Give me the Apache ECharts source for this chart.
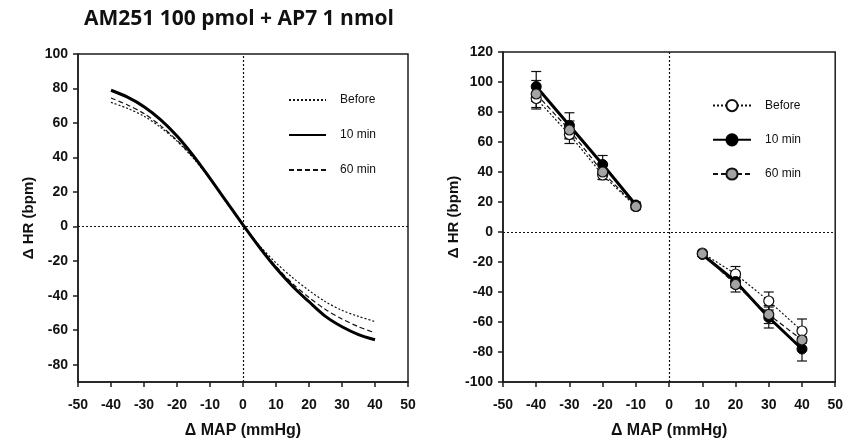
<!DOCTYPE html>
<html>
<head>
<meta charset="utf-8">
<script src="https://cdn.jsdelivr.net/npm/echarts@6/dist/echarts.min.js"></script>
<style>html,body{margin:0;padding:0;background:#fff}#c{width:846px;height:444px}</style>
</head>
<body>
<div id="c"></div>
<script>
// ---- Data ----
const titleText = 'AM251 100 pmol + AP7 1 nmol';
const seriesNames = ['Before', '10 min', '60 min'];
// Left panel: fitted curves (ΔMAP vs ΔHR)
const curveX = [-40, -35, -30, -25, -20, -15, -10, -5, 0, 5, 10, 15, 20, 25, 30, 35, 40];
const curveBefore = [72, 68.5, 64, 57.5, 49.5, 39.5, 27.5, 14, 1, -11, -21, -29.5, -37, -43.5, -48.5, -52, -55];
const curve10 = [79, 75, 69.5, 62, 52.5, 41, 28, 14.5, 1, -12, -24, -34.5, -43.5, -52, -58, -62.5, -65.5];
const curve60 = [74.5, 70.5, 65.5, 58.5, 50, 40, 28, 14.5, 1, -11.5, -23, -33, -41, -48, -53.5, -58, -61.5];
// Right panel: mean ± SEM
const pointX = [-40, -30, -20, -10, 10, 20, 30, 40];
const meanBefore = [89, 65, 38, 17, -14, -28, -46, -66];
const semBefore = [7, 6, 3, 2, 1, 5, 6, 8];
const mean10 = [97, 71, 45, 18, -15, -33, -57, -78];
const sem10 = [10, 8.5, 6, 2, 1, 4, 7, 8];
const mean60 = [92, 68, 40, 17, -14.5, -35, -55, -72];
const sem60 = [9, 6, 5, 2, 1, 5, 6, 6];
const xTicks = [-50, -40, -30, -20, -10, 0, 10, 20, 30, 40, 50];
const leftYTicks = [-80, -60, -40, -20, 0, 20, 40, 60, 80, 100];
const rightYTicks = [-100, -80, -60, -40, -20, 0, 20, 40, 60, 80, 100, 120];

// ---- Build ----
const AX = '#1c1c1c';
const tickFont = {fontFamily: 'Liberation Sans', fontWeight: 'bold', fontSize: 14, color: '#111'};
function xAxisOf(gi) {
  return {
    type: 'value', gridIndex: gi, min: -50, max: 50, interval: 10,
    name: 'Δ MAP (mmHg)', nameLocation: 'middle', nameGap: 41,
    nameTextStyle: {fontFamily: 'Liberation Sans', fontWeight: 'bold', fontSize: 16, color: '#111'},
    axisLine: {show: true, onZero: false, lineStyle: {color: AX, width: 1.5}},
    axisTick: {show: true, length: 5, lineStyle: {color: AX, width: 1.5}, customValues: xTicks},
    axisLabel: Object.assign({margin: 16, customValues: xTicks}, tickFont),
    splitLine: {show: false}
  };
}
function yAxisOf(gi, min, max, ticks, gap) {
  return {
    type: 'value', gridIndex: gi, min: min, max: max,
    name: 'Δ HR (bpm)', nameLocation: 'middle', nameGap: gap, nameRotate: 90,
    nameTextStyle: {fontFamily: 'Liberation Sans', fontWeight: 'bold', fontSize: 15, color: '#111'},
    axisLine: {show: true, onZero: false, lineStyle: {color: AX, width: 1.5}},
    axisTick: {show: true, length: 5, lineStyle: {color: AX, width: 1.5}, customValues: ticks},
    axisLabel: Object.assign({margin: 10, customValues: ticks}, tickFont),
    splitLine: {show: false}
  };
}
const zeroLines = {
  silent: true, symbol: 'none', label: {show: false},
  lineStyle: {type: [2, 2], color: '#111', width: 1.2},
  emphasis: {disabled: true},
  data: [{xAxis: 0}, {yAxis: 0}]
};
function pair(xs, ys) { return xs.map((x, i) => [x, ys[i]]); }
function splitPts(xs, ys) {
  const out = [];
  xs.forEach((x, i) => { if (i > 0 && xs[i - 1] < 0 && x > 0) out.push([0, '-']); out.push([x, ys[i]]); });
  return out;
}
function errData(xs, m, s) { return xs.map((x, i) => [x, m[i], s[i]]); }
function errSeries(name, xs, m, s) {
  return {
    type: 'custom', name: name + '_err', xAxisIndex: 1, yAxisIndex: 1, z: 1, silent: true,
    data: errData(xs, m, s),
    renderItem: function (params, api) {
      const x = api.value(0), mv = api.value(1), sv = api.value(2);
      const t = api.coord([x, mv + sv]), b = api.coord([x, mv - sv]);
      const hw = 5, st = {stroke: '#111', lineWidth: 1.2};
      return {type: 'group', children: [
        {type: 'line', shape: {x1: t[0], y1: t[1], x2: b[0], y2: b[1]}, style: st},
        {type: 'line', shape: {x1: t[0] - hw, y1: t[1], x2: t[0] + hw, y2: t[1]}, style: st},
        {type: 'line', shape: {x1: b[0] - hw, y1: b[1], x2: b[0] + hw, y2: b[1]}, style: st}
      ]};
    }
  };
}
const dashDot = [2, 2], dashLong = [5, 3];
const option = {
  animation: false,
  backgroundColor: '#fff',
  title: {text: titleText, left: 79, top: 4,
    textStyle: {fontFamily: 'Open Sans', fontWeight: 'bold', fontSize: 21, color: '#111'}},
  grid: [
    {left: 78, right: 438, top: 54, bottom: 62, show: true, borderColor: AX, borderWidth: 1.5, backgroundColor: 'transparent'},
    {left: 503, right: 10, top: 52, bottom: 62, show: true, borderColor: AX, borderWidth: 1.5, backgroundColor: 'transparent'}
  ],
  xAxis: [xAxisOf(0), xAxisOf(1)],
  yAxis: [yAxisOf(0, -90, 100, leftYTicks, 42), yAxisOf(1, -100, 120, rightYTicks, 38)],
  legend: [
    {orient: 'vertical', left: 283, top: 89, itemWidth: 37, itemHeight: 14, itemGap: 23,
     data: seriesNames, selectedMode: false,
     itemStyle: {opacity: 0},
     textStyle: {fontFamily: 'Liberation Sans', fontSize: 12, color: '#111', padding: [0, 0, 0, 9]}},
    {orient: 'vertical', left: 707, top: 94, itemWidth: 38, itemHeight: 14, itemGap: 21,
     data: seriesNames.map(n => n + '_r'), selectedMode: false,
     formatter: function (n) { return n.replace('_r', ''); },
     textStyle: {fontFamily: 'Liberation Sans', fontSize: 12, color: '#111', padding: [0, 0, 0, 9]}}
  ],
  series: [
    {type: 'line', name: 'Before', xAxisIndex: 0, yAxisIndex: 0, showSymbol: false, symbol: 'none', smooth: 0.3,
     data: pair(curveX, curveBefore), lineStyle: {color: '#111', width: 1.2, type: dashDot}, itemStyle: {color: '#111'},
     markLine: zeroLines},
    {type: 'line', name: '60 min', xAxisIndex: 0, yAxisIndex: 0, showSymbol: false, symbol: 'none', smooth: 0.3,
     data: pair(curveX, curve60), lineStyle: {color: '#111', width: 1.2, type: dashLong}, itemStyle: {color: '#111'}},
    {type: 'line', name: '10 min', xAxisIndex: 0, yAxisIndex: 0, showSymbol: false, symbol: 'none', smooth: 0.3,
     data: pair(curveX, curve10), lineStyle: {color: '#000', width: 3, type: 'solid'}, itemStyle: {color: '#000'}},
    errSeries('Before', pointX, meanBefore, semBefore),
    errSeries('10 min', pointX, mean10, sem10),
    errSeries('60 min', pointX, mean60, sem60),
    {type: 'line', name: 'Before_r', xAxisIndex: 1, yAxisIndex: 1, z: 2, symbol: 'circle', symbolSize: 10,
     data: splitPts(pointX, meanBefore), connectNulls: false,
     lineStyle: {color: '#111', width: 1.2, type: dashDot},
     itemStyle: {color: '#fff', borderColor: '#111', borderWidth: 1.2},
     markLine: Object.assign({}, zeroLines)},
    {type: 'line', name: '10 min_r', xAxisIndex: 1, yAxisIndex: 1, z: 3, symbol: 'circle', symbolSize: 10,
     data: splitPts(pointX, mean10), connectNulls: false,
     lineStyle: {color: '#000', width: 3},
     itemStyle: {color: '#000', borderColor: '#000', borderWidth: 1}},
    {type: 'line', name: '60 min_r', xAxisIndex: 1, yAxisIndex: 1, z: 4, symbol: 'circle', symbolSize: 10,
     data: splitPts(pointX, mean60), connectNulls: false,
     lineStyle: {color: '#111', width: 1.2, type: dashLong},
     itemStyle: {color: '#a3a3a3', borderColor: '#111', borderWidth: 1.2}}
  ]
};
const chart = echarts.init(document.getElementById('c'), null, {renderer: 'canvas'});
chart.setOption(option);
</script>
</body>
</html>
